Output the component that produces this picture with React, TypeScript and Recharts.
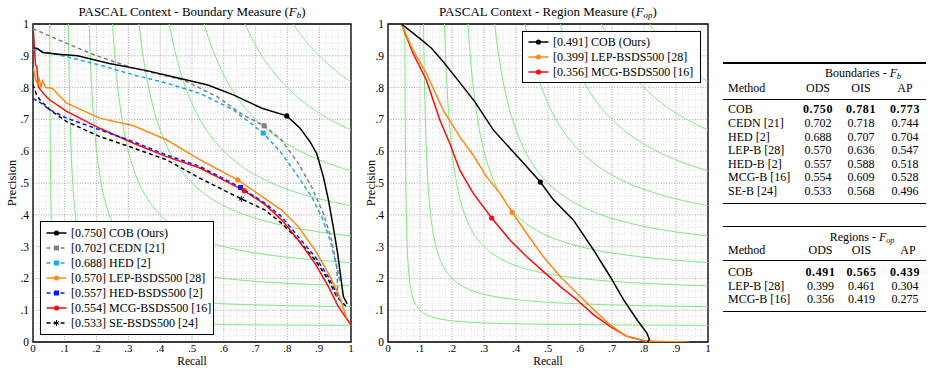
import React from 'react';
import { ComposedChart, Line, Scatter, XAxis, YAxis, CartesianGrid, ReferenceArea } from 'recharts';

const SERIF = '"Liberation Serif", "Times New Roman", Times, serif';

// ---------- axis ticks ----------
const MAJOR_TICKS = [0, 0.1, 0.2, 0.3, 0.4, 0.5, 0.6, 0.7, 0.8, 0.9, 1];
const TICK_LABELS = ['0', '.1', '.2', '.3', '.4', '.5', '.6', '.7', '.8', '.9', '1'];
const MINOR_TICKS = Array.from({ length: 51 }, (_, i) => +(i * 0.02).toFixed(2));
const ISO_F_LEVELS = [0.1, 0.2, 0.3, 0.4, 0.5, 0.6, 0.7, 0.8, 0.9];

// ---------- boundary measure (Fb) curves: [recall, precision] ----------
const COB_B = [[0.003,0.925],[0.015,0.922],[0.03,0.91],[0.08,0.905],[0.14,0.9],[0.24,0.876],[0.35,0.855],[0.45,0.832],[0.55,0.808],[0.63,0.777],[0.72,0.735],[0.798,0.711],[0.84,0.672],[0.871,0.63],[0.892,0.593],[0.913,0.52],[0.929,0.447],[0.944,0.363],[0.958,0.279],[0.969,0.195],[0.976,0.143],[0.988,0.12]];
const CEDN_B = [[0,0.985],[0.106,0.939],[0.2,0.9],[0.316,0.861],[0.473,0.824],[0.578,0.772],[0.661,0.714],[0.727,0.68],[0.782,0.635],[0.834,0.562],[0.876,0.488],[0.913,0.405],[0.939,0.321],[0.955,0.237],[0.958,0.174],[0.952,0.122]];
const HED_B = [[0,0.92],[0.05,0.91],[0.106,0.897],[0.21,0.871],[0.316,0.84],[0.42,0.814],[0.525,0.782],[0.63,0.73],[0.724,0.657],[0.782,0.593],[0.834,0.52],[0.876,0.457],[0.908,0.394],[0.934,0.321],[0.95,0.258],[0.96,0.216],[0.965,0.19]];
const LEP_B = [[0.002,0.86],[0.008,0.825],[0.015,0.81],[0.02,0.825],[0.025,0.8],[0.03,0.822],[0.04,0.8],[0.06,0.798],[0.106,0.751],[0.21,0.704],[0.316,0.68],[0.42,0.636],[0.525,0.573],[0.644,0.51],[0.735,0.447],[0.782,0.415],[0.834,0.363],[0.887,0.289],[0.929,0.216],[0.96,0.153],[0.981,0.091],[0.986,0.075]];
const HEDBSDS_B = [[0,0.765],[0.02,0.755],[0.053,0.73],[0.106,0.704],[0.21,0.667],[0.316,0.63],[0.42,0.588],[0.525,0.552],[0.653,0.486],[0.73,0.436],[0.782,0.394],[0.834,0.331],[0.887,0.268],[0.929,0.205],[0.96,0.142],[0.976,0.116]];
const MCG_B = [[0,1],[0.003,0.95],[0.008,0.87],[0.012,0.866],[0.017,0.803],[0.032,0.782],[0.053,0.761],[0.106,0.725],[0.21,0.672],[0.316,0.625],[0.42,0.583],[0.525,0.547],[0.664,0.476],[0.73,0.432],[0.782,0.384],[0.834,0.321],[0.887,0.247],[0.929,0.174],[0.96,0.111],[1,0.053]];
const SE_B = [[0,0.81],[0.01,0.78],[0.022,0.761],[0.053,0.73],[0.106,0.693],[0.21,0.646],[0.316,0.61],[0.42,0.573],[0.525,0.515],[0.655,0.45],[0.73,0.415],[0.782,0.373],[0.834,0.321],[0.887,0.258],[0.929,0.195],[0.955,0.143],[0.986,0.111]];

// ---------- region measure (Fop) curves ----------
const COB_R = [[0.042,1],[0.099,0.955],[0.136,0.924],[0.172,0.882],[0.214,0.829],[0.271,0.756],[0.329,0.667],[0.381,0.609],[0.433,0.552],[0.476,0.503],[0.517,0.447],[0.579,0.384],[0.642,0.29],[0.694,0.206],[0.736,0.133],[0.778,0.07],[0.809,0.028],[0.817,0.007],[0.81,0]];
const LEP_R = [[0.042,1],[0.078,0.918],[0.12,0.845],[0.172,0.73],[0.224,0.646],[0.266,0.588],[0.308,0.52],[0.35,0.468],[0.388,0.408],[0.433,0.342],[0.485,0.269],[0.538,0.206],[0.59,0.154],[0.642,0.102],[0.694,0.054],[0.746,0.018],[0.809,0.002],[0.94,0]];
const MCG_R = [[0.042,1],[0.078,0.908],[0.12,0.824],[0.162,0.698],[0.193,0.625],[0.224,0.541],[0.266,0.468],[0.324,0.39],[0.381,0.321],[0.433,0.269],[0.485,0.222],[0.538,0.175],[0.59,0.133],[0.642,0.086],[0.694,0.049],[0.746,0.018],[0.809,0.002],[0.856,0]];

// ODS points
const ODS_POINTS_B = [[0.798,0.711],[0.727,0.68],[0.724,0.657],[0.644,0.51],[0.653,0.486],[0.664,0.476],[0.655,0.45]];
const ODS_POINTS_R = [[0.476,0.503],[0.388,0.408],[0.324,0.39]];

// ---------- tables ----------
const METHODS_B = ['COB', 'CEDN [21]', 'HED [2]', 'LEP-B [28]', 'HED-B [2]', 'MCG-B [16]', 'SE-B [24]'];
const ODS_B = ['0.750', '0.702', '0.688', '0.570', '0.557', '0.554', '0.533'];
const OIS_B = ['0.781', '0.718', '0.707', '0.636', '0.588', '0.609', '0.568'];
const AP_B = ['0.773', '0.744', '0.704', '0.547', '0.518', '0.528', '0.496'];
const METHODS_R = ['COB', 'LEP-B [28]', 'MCG-B [16]'];
const ODS_R = ['0.491', '0.399', '0.356'];
const OIS_R = ['0.565', '0.461', '0.419'];
const AP_R = ['0.439', '0.304', '0.275'];

type Pt = { r: number; p: number };
type Shape = 'circle' | 'square' | 'star';
type Series = { label: string; color: string; dash?: string; shape: Shape; data: Pt[]; ods: Pt };

const toPts = (a: number[][]): Pt[] => a.map(([r, p]) => ({ r, p }));

const BOUNDARY_SERIES: Series[] = [
  { label: '[0.750] COB (Ours)', color: '#000000', shape: 'circle', data: toPts(COB_B), ods: toPts(ODS_POINTS_B)[0] },
  { label: '[0.702] CEDN [21]', color: '#808080', dash: '4 3', shape: 'square', data: toPts(CEDN_B), ods: toPts(ODS_POINTS_B)[1] },
  { label: '[0.688] HED [2]', color: '#1ea8e4', dash: '4 3', shape: 'square', data: toPts(HED_B), ods: toPts(ODS_POINTS_B)[2] },
  { label: '[0.570] LEP-BSDS500 [28]', color: '#ff8a12', shape: 'circle', data: toPts(LEP_B), ods: toPts(ODS_POINTS_B)[3] },
  { label: '[0.557] HED-BSDS500 [2]', color: '#0a14ff', dash: '4 3', shape: 'square', data: toPts(HEDBSDS_B), ods: toPts(ODS_POINTS_B)[4] },
  { label: '[0.554] MCG-BSDS500 [16]', color: '#ff0a0a', shape: 'circle', data: toPts(MCG_B), ods: toPts(ODS_POINTS_B)[5] },
  { label: '[0.533] SE-BSDS500 [24]', color: '#000000', dash: '4 3', shape: 'star', data: toPts(SE_B), ods: toPts(ODS_POINTS_B)[6] },
];

const REGION_SERIES: Series[] = [
  { label: '[0.491] COB (Ours)', color: '#000000', shape: 'circle', data: toPts(COB_R), ods: toPts(ODS_POINTS_R)[0] },
  { label: '[0.399] LEP-BSDS500 [28]', color: '#ff8a12', shape: 'circle', data: toPts(LEP_R), ods: toPts(ODS_POINTS_R)[1] },
  { label: '[0.356] MCG-BSDS500 [16]', color: '#ff0a0a', shape: 'circle', data: toPts(MCG_R), ods: toPts(ODS_POINTS_R)[2] },
];

// iso-F contour: P = F R / (2R - F)
function isoCurve(f: number): Pt[] {
  const a = f / 2;
  const r0 = f / (2 - f);
  const d0 = r0 - a;
  const d1 = 1 - a;
  const n = 90;
  const out: Pt[] = [];
  for (let k = 0; k <= n; k++) {
    const r = a + d0 * Math.pow(d1 / d0, k / n);
    out.push({ r, p: (f * r) / (2 * r - f) });
  }
  return out;
}
const ISO_CURVES = ISO_F_LEVELS.map(isoCurve);

const isMajor = (v: number) => MAJOR_TICKS.some((m) => Math.abs(m - v) < 1e-9);
const tickMark = (side: 'bottom' | 'top' | 'left' | 'right') => (props: any) => {
  const { x, y, payload } = props;
  const L = isMajor(payload.value) ? 4 : 2;
  const dx = side === 'left' ? L : side === 'right' ? -L : 0;
  const dy = side === 'bottom' ? -L : side === 'top' ? L : 0;
  return <line x1={x} y1={y} x2={x + dx} y2={y + dy} stroke="#000" strokeWidth={0.7} />;
};
const fmt = (v: number) => TICK_LABELS[MAJOR_TICKS.findIndex((m) => Math.abs(m - v) < 1e-9)] ?? '';

function Marker({ cx, cy, shape, color }: { cx: number; cy: number; shape: Shape; color: string }) {
  if (shape === 'circle') return <circle cx={cx} cy={cy} r={2.6} fill={color} />;
  if (shape === 'square') return <rect x={cx - 2.5} y={cy - 2.5} width={5} height={5} fill={color} />;
  return (
    <g stroke={color} strokeWidth={1}>
      {[90, 30, 150].map((a) => {
        const rad = (a * Math.PI) / 180;
        const dx = 3 * Math.cos(rad);
        const dy = 3 * Math.sin(rad);
        return <line key={a} x1={cx - dx} y1={cy - dy} x2={cx + dx} y2={cy + dy} />;
      })}
    </g>
  );
}

function PRChart({ width, series, yLabelX }: { width: number; series: Series[]; yLabelX: number }) {
  const common = { type: 'number' as const, domain: [0, 1], allowDataOverflow: true, interval: 0 as const };
  return (
    <ComposedChart width={width} height={368} margin={{ top: 24, right: 9, bottom: 0, left: 8 }}>
      <XAxis
        xAxisId="x" dataKey="r" {...common} ticks={MAJOR_TICKS} height={26}
        tickLine={false} axisLine={false} tickSize={0} tickMargin={2.5} tickFormatter={fmt}
        tick={{ fontFamily: SERIF, fontSize: 11, fill: '#000' }}
        label={{
          content: (p: any) => (
            <text x={p.viewBox.x + p.viewBox.width / 2} y={p.viewBox.y + 23.3} textAnchor="middle"
              fontFamily={SERIF} fontSize={11.5} fill="#000">Recall</text>
          ),
        }}
      />
      <XAxis xAxisId="xb" dataKey="r" {...common} ticks={MINOR_TICKS} mirror height={0}
        tickLine={false} axisLine={false} tickSize={0} tickMargin={0} tick={tickMark('bottom')} />
      <XAxis xAxisId="xt" dataKey="r" {...common} ticks={MINOR_TICKS} orientation="top" mirror height={0}
        tickLine={false} axisLine={false} tickSize={0} tickMargin={0} tick={tickMark('top')} />
      <YAxis
        yAxisId="y" dataKey="p" {...common} ticks={MAJOR_TICKS} width={25}
        tickLine={false} axisLine={false} tickSize={0} tickMargin={4} tickFormatter={fmt}
        tick={{ fontFamily: SERIF, fontSize: 11.5, fill: '#000' }}
        label={{
          content: (p: any) => {
            const cy = p.viewBox.y + p.viewBox.height / 2;
            return (
              <text x={yLabelX} y={cy} transform={`rotate(-90, ${yLabelX}, ${cy})`} textAnchor="middle"
                dominantBaseline="central" fontFamily={SERIF} fontSize={12.5} fill="#000">Precision</text>
            );
          },
        }}
      />
      <YAxis yAxisId="yl" dataKey="p" {...common} ticks={MINOR_TICKS} mirror width={0}
        tickLine={false} axisLine={false} tickSize={0} tickMargin={0} tick={tickMark('left')} />
      <YAxis yAxisId="yr" dataKey="p" {...common} ticks={MINOR_TICKS} orientation="right" mirror width={0}
        tickLine={false} axisLine={false} tickSize={0} tickMargin={0} tick={tickMark('right')} />

      <CartesianGrid xAxisId="xb" yAxisId="yl" stroke="#d2d2d2" strokeDasharray="1 1.6" strokeWidth={0.7} />
      <CartesianGrid xAxisId="x" yAxisId="y" stroke="#959595" strokeDasharray="1 1.6" strokeWidth={0.7} />

      {ISO_CURVES.map((c, i) => (
        <Line key={`iso${i}`} xAxisId="x" yAxisId="y" data={c} dataKey="p" type="linear" stroke="#7ee87e"
          strokeWidth={1} dot={false} activeDot={false} isAnimationActive={false} />
      ))}
      {[...series].reverse().map((s) => (
        <Line key={s.label} xAxisId="x" yAxisId="y" data={s.data} dataKey="p" type="linear" stroke={s.color}
          strokeWidth={1.5} strokeDasharray={s.dash} dot={false} activeDot={false} isAnimationActive={false} />
      ))}
      {series.map((s) => (
        <Scatter key={`m${s.label}`} xAxisId="x" yAxisId="y" data={[s.ods]} dataKey="p" isAnimationActive={false}
          shape={(p: any) => <Marker cx={p.cx} cy={p.cy} shape={s.shape} color={s.color} />} />
      ))}
      <ReferenceArea xAxisId="x" yAxisId="y" x1={0} x2={1} y1={0} y2={1} fill="none" fillOpacity={0}
        stroke="#000" strokeWidth={1.3} ifOverflow="visible" />
    </ComposedChart>
  );
}

function LegendBox({ series, left, top, width, rowH, firstRow }: { series: Series[]; left: number; top: number; width: number; rowH: number; firstRow: number }) {
  const height = firstRow * 2 + rowH * (series.length - 1);
  return (
    <div style={{ position: 'absolute', left, top, width, height, border: '1px solid #000', background: '#fff', boxSizing: 'border-box' }}>
      {series.map((s, i) => (
        <div key={s.label} style={{ position: 'absolute', left: 5, top: firstRow - 1 + i * rowH, transform: 'translateY(-50%)', display: 'flex', alignItems: 'center', whiteSpace: 'nowrap' }}>
          <svg width={21} height={10} style={{ display: 'block' }}>
            <line x1={0.5} y1={5} x2={20.5} y2={5} stroke={s.color} strokeWidth={1.5} strokeDasharray={s.dash} />
            <Marker cx={10.5} cy={5} shape={s.shape} color={s.color} />
          </svg>
          <span style={{ marginLeft: 4, fontFamily: SERIF, fontSize: 12, lineHeight: '14px', color: '#000' }}>{s.label}</span>
        </div>
      ))}
    </div>
  );
}

function T({ x, y, children, align = 'center', bold = false, size = 12 }: { x: number; y: number; children: React.ReactNode; align?: 'center' | 'left'; bold?: boolean; size?: number }) {
  return (
    <div style={{
      position: 'absolute', left: x, top: y, transform: align === 'center' ? 'translate(-50%,-50%)' : 'translate(0,-50%)',
      fontFamily: SERIF, fontSize: size, fontWeight: bold ? 700 : 400, letterSpacing: bold ? 0.6 : 0,
      whiteSpace: 'nowrap', lineHeight: 1, color: '#000',
    }}>{children}</div>
  );
}
function Rule({ y, w }: { y: number; w: number }) {
  return <div style={{ position: 'absolute', left: 723, top: y - w / 2, width: 203, height: w, background: '#000' }} />;
}

function Tables() {
  const colsB = [818, 861, 905];
  const colsR = [820.5, 861.5, 905];
  return (
    <>
      <Rule y={63} w={1.2} />
      <T x={863} y={74}>Boundaries - <i>F</i><sub style={{ fontSize: 8, verticalAlign: '-2px' }}><i>b</i></sub></T>
      <T x={728} y={88} align="left">Method</T>
      <T x={colsB[0]} y={88}>ODS</T>
      <T x={colsB[1]} y={88}>OIS</T>
      <T x={colsB[2]} y={88}>AP</T>
      <Rule y={99} w={0.7} />
      {METHODS_B.map((m, i) => {
        const y = 109.3 + i * 13.6;
        return (
          <React.Fragment key={m}>
            <T x={728} y={y} align="left">{m}</T>
            <T x={colsB[0]} y={y} bold={i === 0}>{ODS_B[i]}</T>
            <T x={colsB[1]} y={y} bold={i === 0}>{OIS_B[i]}</T>
            <T x={colsB[2]} y={y} bold={i === 0}>{AP_B[i]}</T>
          </React.Fragment>
        );
      })}
      <Rule y={203.5} w={1.2} />

      <Rule y={226.7} w={1.2} />
      <T x={862} y={237.7}>Regions - <i>F</i><sub style={{ fontSize: 8, verticalAlign: '-2px' }}><i>op</i></sub></T>
      <T x={728} y={250} align="left">Method</T>
      <T x={colsR[0]} y={250}>ODS</T>
      <T x={colsR[1]} y={250}>OIS</T>
      <T x={908} y={250}>AP</T>
      <Rule y={260} w={0.7} />
      {METHODS_R.map((m, i) => {
        const y = 272.3 + i * 13.2;
        return (
          <React.Fragment key={m}>
            <T x={728} y={y} align="left">{m}</T>
            <T x={colsR[0]} y={y} bold={i === 0}>{ODS_R[i]}</T>
            <T x={colsR[1]} y={y} bold={i === 0}>{OIS_R[i]}</T>
            <T x={colsR[2]} y={y} bold={i === 0}>{AP_R[i]}</T>
          </React.Fragment>
        );
      })}
      <Rule y={311.7} w={1.2} />
    </>
  );
}

export default function App() {
  return (
    <div style={{ position: 'absolute', left: 0, top: 0, width: 931, height: 368, background: '#fff', overflow: 'hidden' }}>
      <div style={{ position: 'absolute', left: 0, top: 0 }}>
        <PRChart width={360} series={BOUNDARY_SERIES} yLabelX={12} />
      </div>
      <div style={{ position: 'absolute', left: 355, top: 0 }}>
        <PRChart width={362} series={REGION_SERIES} yLabelX={16} />
      </div>
      <T x={192} y={12} size={13}>PASCAL Context - Boundary Measure (<i>F</i><sub style={{ fontSize: 9, verticalAlign: '-2px' }}><i>b</i></sub>)</T>
      <T x={548} y={12} size={13}>PASCAL Context - Region Measure (<i>F</i><sub style={{ fontSize: 9, verticalAlign: '-2px' }}><i>op</i></sub>)</T>
      <LegendBox series={BOUNDARY_SERIES} left={40} top={221} width={174} rowH={15} firstRow={12} />
      <LegendBox series={REGION_SERIES} left={522} top={31} width={179} rowH={15} firstRow={11} />
      <Tables />
    </div>
  );
}
